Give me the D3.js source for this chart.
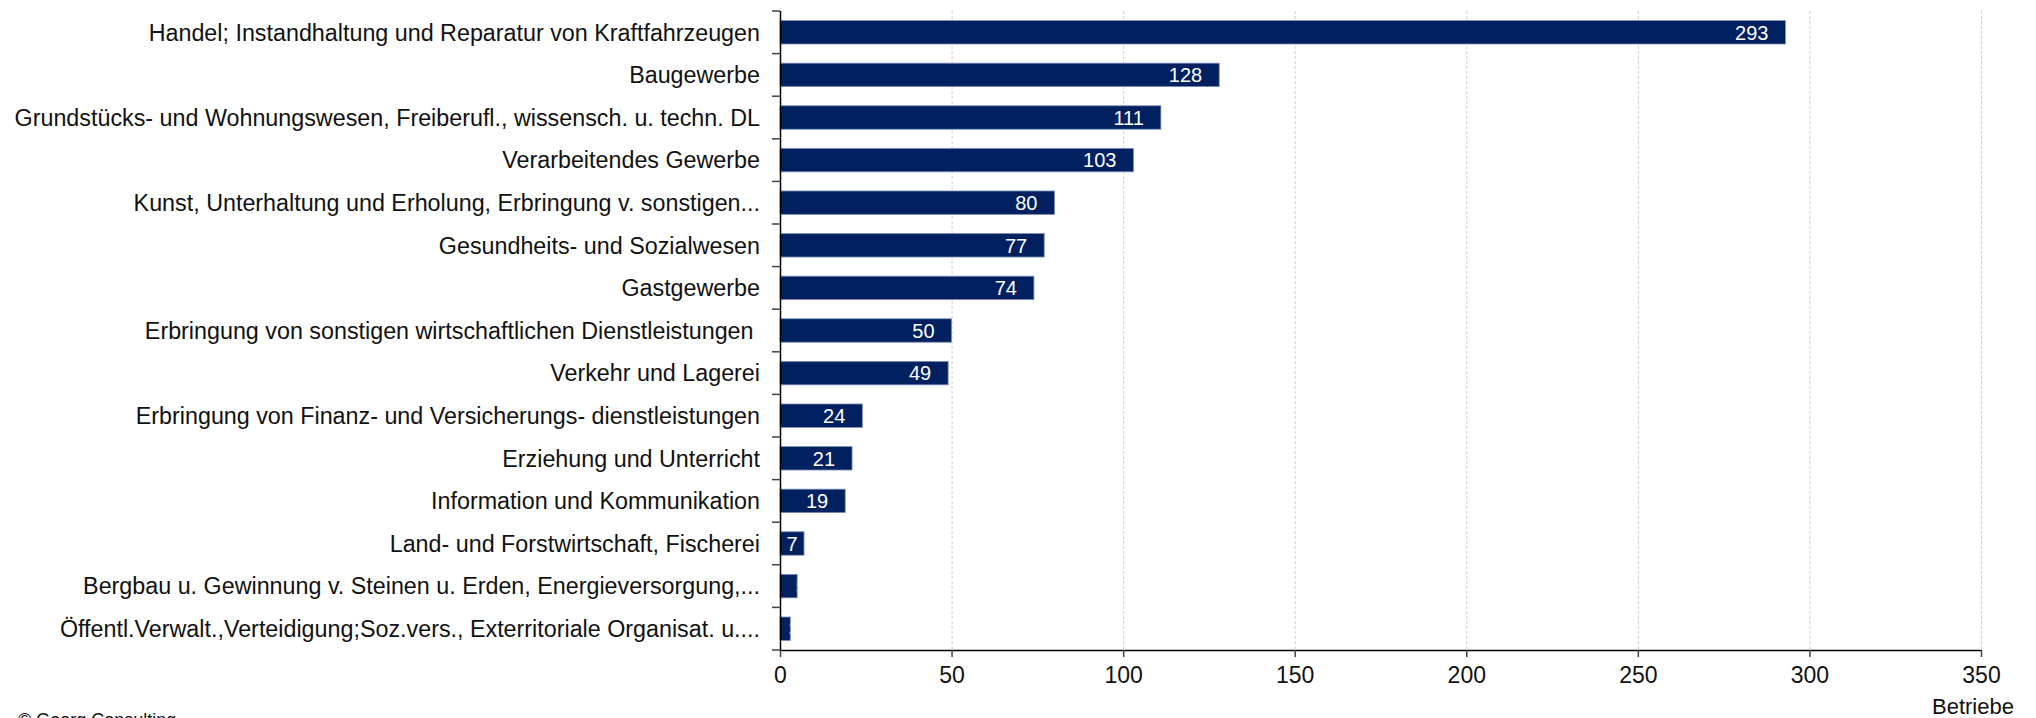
<!DOCTYPE html>
<html>
<head>
<meta charset="utf-8">
<script src="https://cdn.jsdelivr.net/npm/d3@7"></script>
<style>
  body { margin: 0; background: #fff; }
  svg text { font-family: "Liberation Sans", Arial, sans-serif; }
</style>
</head>
<body>
<div id="chart"></div>
<script>
// Data {{{
const categories = [
  "Handel; Instandhaltung und Reparatur von Kraftfahrzeugen",
  "Baugewerbe",
  "Grundstücks- und Wohnungswesen, Freiberufl., wissensch. u. techn. DL",
  "Verarbeitendes Gewerbe",
  "Kunst, Unterhaltung und Erholung, Erbringung v. sonstigen...",
  "Gesundheits- und Sozialwesen",
  "Gastgewerbe",
  "Erbringung von sonstigen wirtschaftlichen Dienstleistungen ",
  "Verkehr und Lagerei",
  "Erbringung von Finanz- und Versicherungs- dienstleistungen",
  "Erziehung und Unterricht",
  "Information und Kommunikation",
  "Land- und Forstwirtschaft, Fischerei",
  "Bergbau u. Gewinnung v. Steinen u. Erden, Energieversorgung,...",
  "Öffentl.Verwalt.,Verteidigung;Soz.vers., Exterritoriale Organisat. u...."
];
const values = [293, 128, 111, 103, 80, 77, 74, 50, 49, 24, 21, 19, 7, 5, 3];
const xTicks = [0, 50, 100, 150, 200, 250, 300, 350];
const unitLabel = "Betriebe";
const sourceLabel = "© Georg Consulting";
// }}}
// Consts {{{
const W = 2036, H = 718;
const margin = {top: 11, right: 55, bottom: 68, left: 780};
const bar_color = "#002060";
const grid_color = "#cfcfcf";
const text_color = "#111";
// }}}

const svg = d3.select("#chart").append("svg")
    .attr("width", W)
    .attr("height", H);

const x = d3.scaleLinear()
    .domain([0, 350])
    .range([margin.left, W - margin.right]);

const y = d3.scaleBand()
    .domain(categories)
    .range([margin.top, H - margin.bottom])
    .paddingInner(0.45)
    .paddingOuter(0.225);

// band boundaries for the y ticks
const yb = d3.scaleBand()
    .domain(categories)
    .range([margin.top, H - margin.bottom]);
const bounds = categories.map(c => yb(c)).concat([H - margin.bottom]);

// grid lines
svg.append("g")
  .selectAll("line")
  .data(xTicks.filter(d => d > 0))
  .enter()
  .append("line")
    .attr("x1", d => x(d) + 0.5)
    .attr("x2", d => x(d) + 0.5)
    .attr("y1", margin.top)
    .attr("y2", H - margin.bottom)
    .attr("stroke", grid_color)
    .attr("stroke-width", 1)
    .attr("stroke-dasharray", "3,2");

// bars
const rows = categories.map((c, i) => ({cat: c, val: values[i], i: i}));

const defs = svg.append("defs");
defs.selectAll("clipPath")
  .data(rows)
  .enter()
  .append("clipPath")
    .attr("id", d => "clip" + d.i)
  .append("rect")
    .attr("x", x(0))
    .attr("y", d => y(d.cat))
    .attr("width", d => x(d.val) - x(0))
    .attr("height", y.bandwidth());

svg.append("g")
  .selectAll("rect")
  .data(rows)
  .enter()
  .append("rect")
    .attr("x", x(0))
    .attr("y", d => y(d.cat))
    .attr("width", d => x(d.val) - x(0))
    .attr("height", y.bandwidth())
    .attr("fill", bar_color)
    .attr("stroke", "#7d8fba")
    .attr("stroke-width", 0.8);

// value labels, clipped to their bar
const vl = svg.append("g")
  .selectAll("text")
  .data(rows)
  .enter()
  .append("text")
    .attr("clip-path", d => "url(#clip" + d.i + ")")
    .attr("y", d => y(d.cat) + y.bandwidth() / 2)
    .attr("dy", "0.36em")
    .attr("fill", "#fff")
    .style("font-size", "20px")
    .text(d => d.val);

vl.each(function(d) {
    const tw = this.getComputedTextLength();
    const bw = x(d.val) - x(0);
    const t = d3.select(this);
    if (bw >= tw + 34) {
        t.attr("x", x(d.val) - 17).attr("text-anchor", "end");
    } else if (bw >= tw + 8) {
        t.attr("x", x(0) + bw / 2).attr("text-anchor", "middle");
    } else {
        t.attr("x", x(d.val) - 1.5).attr("text-anchor", "start");
    }
});

// y axis
const yAxis = svg.append("g");
yAxis.append("line")
    .attr("x1", x(0) + 0.5).attr("x2", x(0) + 0.5)
    .attr("y1", margin.top).attr("y2", H - margin.bottom)
    .attr("stroke", "#000").attr("stroke-width", 1.5);
yAxis.selectAll(".tick")
  .data(bounds)
  .enter()
  .append("line")
    .attr("x1", x(0) - 8).attr("x2", x(0))
    .attr("y1", d => d).attr("y2", d => d)
    .attr("stroke", "#444").attr("stroke-width", 1.5);
yAxis.selectAll(".lbl")
  .data(categories)
  .enter()
  .append("text")
    .attr("x", x(0) - 20)
    .attr("y", d => y(d) + y.bandwidth() / 2)
    .attr("dy", "0.36em")
    .attr("text-anchor", "end")
    .attr("fill", text_color)
    .style("font-size", "23.3px")
    .style("white-space", "pre")
    .text(d => d);

// x axis
const xAxis = svg.append("g")
    .attr("transform", "translate(0," + (H - margin.bottom) + ")")
    .call(d3.axisBottom(x).tickValues(xTicks).tickSize(7).tickPadding(10).tickSizeOuter(0));
xAxis.select(".domain").attr("stroke", "#000").attr("stroke-width", 1.5);
xAxis.selectAll(".tick line").attr("stroke", "#444").attr("stroke-width", 1.5);
xAxis.selectAll(".tick text")
    .attr("fill", text_color)
    .style("font-family", "'Liberation Sans', Arial, sans-serif")
    .style("font-size", "23px");

svg.append("text")
    .attr("x", x(350) - 8)
    .attr("y", 714)
    .attr("text-anchor", "middle")
    .attr("fill", text_color)
    .style("font-size", "22px")
    .text(unitLabel);

svg.append("text")
    .attr("x", 18)
    .attr("y", 726)
    .attr("fill", text_color)
    .style("font-size", "18px")
    .text(sourceLabel);
</script>
</body>
</html>
